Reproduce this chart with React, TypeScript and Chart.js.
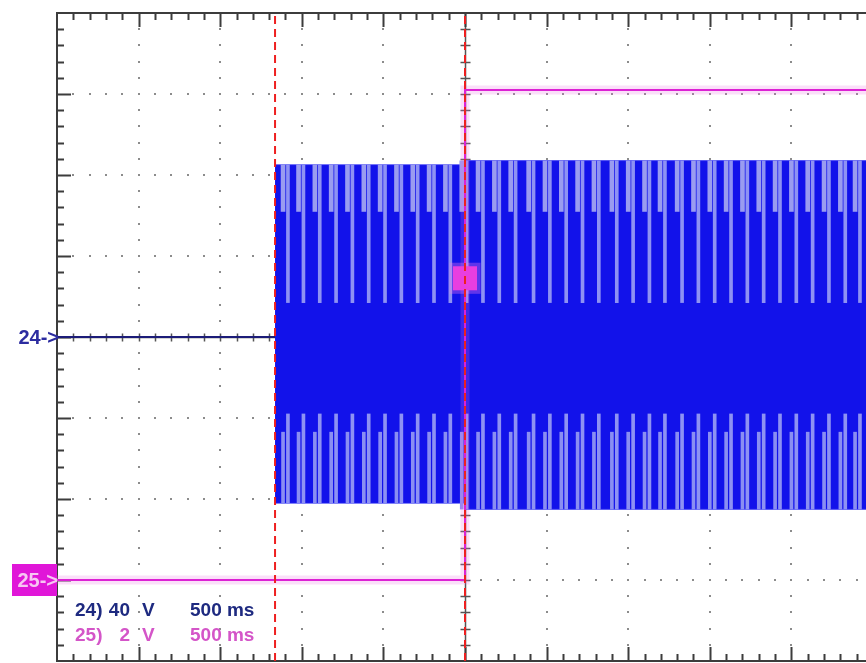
import React, { useEffect, useRef } from "react";
import { Chart, registerables } from "chart.js";

Chart.register(...registerables);

// ---- data (time in s relative to trigger, ch24 in V, ch25 in V) ----
const T_START = -2.5; // left edge of the screen (10 div x 500 ms)
const T_END = 2.457; // right edge of the visible part of the screen
const cursorTimes = [-1.164, 0];

const ch24FlatTimes = [-2.5, -1.164];
const ch24FlatVolts = [0, 0];

const envTimes = [-1.164, 0, 0, 2.457];
const envTopVolts = [85, 85, 87, 87];
const envBottomVolts = [-82, -82, -85, -85];

// positions of the light gaps in the dense ch24 waveform
const stripeTimes = [
  -1.085, -0.99, -0.89, -0.79, -0.69, -0.59, -0.49, -0.39, -0.29, -0.19,
  -0.09, 0.01, 0.11, 0.21, 0.31, 0.42, 0.52, 0.62, 0.72, 0.82, 0.93, 1.03,
  1.13, 1.225, 1.33, 1.43, 1.53, 1.63, 1.73, 1.83, 1.93, 2.03, 2.13, 2.23,
  2.33, 2.42,
];
const upperStripeLow = 17; // V
const upperShortLow = 62; // V
const lowerStripeHigh = -38; // V
const lowerShortHigh = -47; // V
const shortStripeShift = -0.03; // s

const ch25Times = [-2.5, 0, 0, 2.457];
const ch25Volts = [0, 0, 12.1, 12.1];

const triggerTime = 0;
const triggerLevel = 29; // V on ch24 scale

const label24 = ["24)", "40", "V", "500 ms"];
const label25 = ["25)", "2", "V", "500 ms"];

// ---- helpers ----
const envTopAt = (t: number) => (t < 0 ? envTopVolts[0] : envTopVolts[2]);
const envBottomAt = (t: number) => (t < 0 ? envBottomVolts[0] : envBottomVolts[2]);

const gridPlugin = {
  id: "scopeGrid",
  beforeDatasetsDraw(chart: any) {
    const { ctx, chartArea: a, scales } = chart;
    const x = scales.x;
    const y = scales.y;
    ctx.save();
    const divT = 0.5;
    const divV = 40;
    const nT = Math.floor((x.max - x.min) / (divT / 5) + 1e-6);
    // dotted horizontal grid
    ctx.fillStyle = "#8c8c8c";
    for (let j = -3; j <= 3; j++) {
      if (j === 0) continue;
      const py = Math.round(y.getPixelForValue(j * divV));
      for (let k = 1; k <= nT; k++) {
        const px = Math.round(x.getPixelForValue(T_START + (k * divT) / 5));
        ctx.fillRect(px - 1, py - 1, 2, 2);
      }
    }
    // dotted vertical grid
    for (let i = 1; i <= 9; i++) {
      if (i === 5) continue;
      const px = Math.round(x.getPixelForValue(T_START + i * divT));
      for (let k = 1; k < 40; k++) {
        const py = Math.round(y.getPixelForValue(-160 + k * 8));
        ctx.fillRect(px - 1, py - 1, 2, 2);
      }
    }
    // centre axes
    ctx.strokeStyle = "#555";
    ctx.lineWidth = 1.5;
    const cx = Math.round(x.getPixelForValue(0)) + 0.5;
    const cy = Math.round(y.getPixelForValue(0)) + 0.5;
    ctx.beginPath();
    ctx.moveTo(cx, a.top);
    ctx.lineTo(cx, a.bottom);
    ctx.moveTo(a.left, cy);
    ctx.lineTo(a.right, cy);
    for (let k = 1; k < 40; k++) {
      const py = Math.round(y.getPixelForValue(-160 + k * 8)) + 0.5;
      ctx.moveTo(cx - 5, py);
      ctx.lineTo(cx + 5, py);
    }
    for (let k = 1; k <= nT; k++) {
      const px = Math.round(x.getPixelForValue(T_START + (k * divT) / 5)) + 0.5;
      ctx.moveTo(px, cy - 4);
      ctx.lineTo(px, cy + 4);
    }
    ctx.stroke();
    // border with ticks
    ctx.strokeStyle = "#3c3c3c";
    ctx.lineWidth = 2;
    ctx.beginPath();
    ctx.moveTo(a.right, a.top);
    ctx.lineTo(a.left, a.top);
    ctx.lineTo(a.left, a.bottom);
    ctx.lineTo(a.right, a.bottom);
    for (let k = 1; k <= nT; k++) {
      const px = Math.round(x.getPixelForValue(T_START + (k * divT) / 5)) + 0.5;
      const len = k % 5 === 0 ? 14 : 7;
      ctx.moveTo(px, a.top);
      ctx.lineTo(px, a.top + len);
      ctx.moveTo(px, a.bottom);
      ctx.lineTo(px, a.bottom - len);
    }
    for (let k = 1; k < 40; k++) {
      const py = Math.round(y.getPixelForValue(-160 + k * 8)) + 0.5;
      const len = k % 5 === 0 ? 14 : 7;
      ctx.moveTo(a.left, py);
      ctx.lineTo(a.left + len, py);
    }
    ctx.stroke();
    ctx.restore();
  },
};

const labelPlugin = {
  id: "scopeLabels",
  afterDraw(chart: any) {
    const { ctx, chartArea: a, scales } = chart;
    const y = scales.y;
    const y2 = scales.y2;
    ctx.save();
    ctx.font = 'bold 20px "Liberation Sans", Arial, sans-serif';
    ctx.textBaseline = "middle";
    ctx.textAlign = "right";
    // ch24 marker
    ctx.fillStyle = "#2c2ca0";
    ctx.fillText("24->", a.left + 2, y.getPixelForValue(0) + 1);
    // ch25 marker
    const y25 = y2.getPixelForValue(0);
    ctx.fillStyle = "#e016d8";
    ctx.fillRect(12, y25 - 16, a.left - 12, 32);
    ctx.fillStyle = "#f7c6f3";
    ctx.fillText("25->", a.left + 1, y25 + 1);
    // scale labels
    ctx.font = 'bold 19px "Liberation Sans", Arial, sans-serif';
    ctx.textAlign = "left";
    ctx.textBaseline = "alphabetic";
    const xs = [75, 108, 142, 190];
    ctx.fillStyle = "#1e2a80";
    label24.forEach((s, i) => {
      const w = ctx.measureText(s).width;
      const px = i === 1 ? 130 - w : xs[i];
      ctx.fillText(s, px, 616);
    });
    ctx.fillStyle = "#d455c8";
    label25.forEach((s, i) => {
      const w = ctx.measureText(s).width;
      const px = i === 1 ? 130 - w : xs[i];
      ctx.fillText(s, px, 641);
    });
    ctx.restore();
  },
};

export default function App() {
  const ref = useRef<HTMLCanvasElement | null>(null);

  useEffect(() => {
    if (!ref.current) return;
    const pts = (ts: number[], vs: number[]) => ts.map((t, i) => ({ x: t, y: vs[i] }));
    const lineBase = {
      type: "line" as const,
      pointRadius: 0,
      tension: 0,
      fill: false,
    };
    const stripeBar = (shift: number, lo: (t: number) => number, hi: (t: number) => number, color: string, w: number, order: number) => ({
      type: "bar" as const,
      data: stripeTimes.map((t) => ({ x: t + shift, y: [lo(t), hi(t)] })),
      backgroundColor: color,
      borderWidth: 0,
      barThickness: w,
      grouped: false,
      order,
      yAxisID: "y",
    });

    const chart = new Chart(ref.current, {
      type: "line",
      data: {
        datasets: [
          // 0: envelope top (filled to envelope bottom)
          {
            ...lineBase,
            data: pts(envTimes, envTopVolts),
            borderColor: "#2020f0",
            borderWidth: 1,
            backgroundColor: "#1212ea",
            fill: "+1",
            order: 20,
            yAxisID: "y",
          },
          // 1: envelope bottom
          {
            ...lineBase,
            data: pts(envTimes, envBottomVolts),
            borderColor: "#2020f0",
            borderWidth: 1,
            order: 19,
            yAxisID: "y",
          },
          stripeBar(0, () => upperStripeLow, envTopAt, "#8e92f3", 3, 15),
          stripeBar(shortStripeShift, () => upperShortLow, envTopAt, "#9a9cf0", 4, 15),
          stripeBar(0, envBottomAt, () => lowerStripeHigh, "#8e92f3", 3, 15),
          stripeBar(shortStripeShift, envBottomAt, () => lowerShortHigh, "#8a8ef2", 3, 15),
          // ch24 flat before burst
          {
            ...lineBase,
            data: pts(ch24FlatTimes, ch24FlatVolts),
            borderColor: "#1c1c78",
            borderWidth: 2,
            order: 12,
            yAxisID: "y",
          },
          // ch25 glow
          {
            ...lineBase,
            data: pts(ch25Times, ch25Volts),
            borderColor: "rgba(238,110,228,0.22)",
            borderWidth: 9,
            order: 9,
            yAxisID: "y2",
          },
          // ch25 trace
          {
            ...lineBase,
            data: pts(ch25Times, ch25Volts),
            borderColor: "#dc22d4",
            borderWidth: 2,
            order: 8,
            yAxisID: "y2",
          },
          // trigger marker glow + square
          {
            ...lineBase,
            data: [{ x: triggerTime, y: triggerLevel }],
            showLine: false,
            pointRadius: 22,
            pointStyle: "rect",
            pointBackgroundColor: "rgba(240,120,235,0.35)",
            pointBorderWidth: 0,
            order: 7,
            yAxisID: "y",
          },
          {
            ...lineBase,
            data: [{ x: triggerTime, y: triggerLevel }],
            showLine: false,
            pointRadius: 17,
            pointStyle: "rect",
            pointBackgroundColor: "#e83ee0",
            pointBorderWidth: 0,
            order: 6,
            yAxisID: "y",
          },
          // cursors
          ...cursorTimes.map((t, i) => ({
            ...lineBase,
            data: [
              { x: t, y: -160 },
              { x: t, y: 160 },
            ],
            borderColor: "#ee2020",
            borderWidth: 2,
            borderDash: [8, 5],
            order: 2 + i,
            yAxisID: "y",
          })),
        ] as any,
      },
      options: {
        animation: false,
        responsive: false,
        events: [],
        layout: { autoPadding: false, padding: { left: 57, top: 13, right: 0, bottom: 2 } },
        plugins: { legend: { display: false }, tooltip: { enabled: false } },
        scales: {
          x: { type: "linear", min: T_START, max: T_END, display: false, offset: false },
          y: { type: "linear", min: -160, max: 160, display: false },
          y2: { type: "linear", min: -2, max: 14, display: false },
        },
      },
      plugins: [gridPlugin, labelPlugin],
    } as any);
    return () => chart.destroy();
  }, []);

  return (
    <div style={{ position: "fixed", left: 0, top: 0, width: 866, height: 663, background: "#fff" }}>
      <canvas ref={ref} width={866} height={663} style={{ width: 866, height: 663, display: "block" }} />
    </div>
  );
}
